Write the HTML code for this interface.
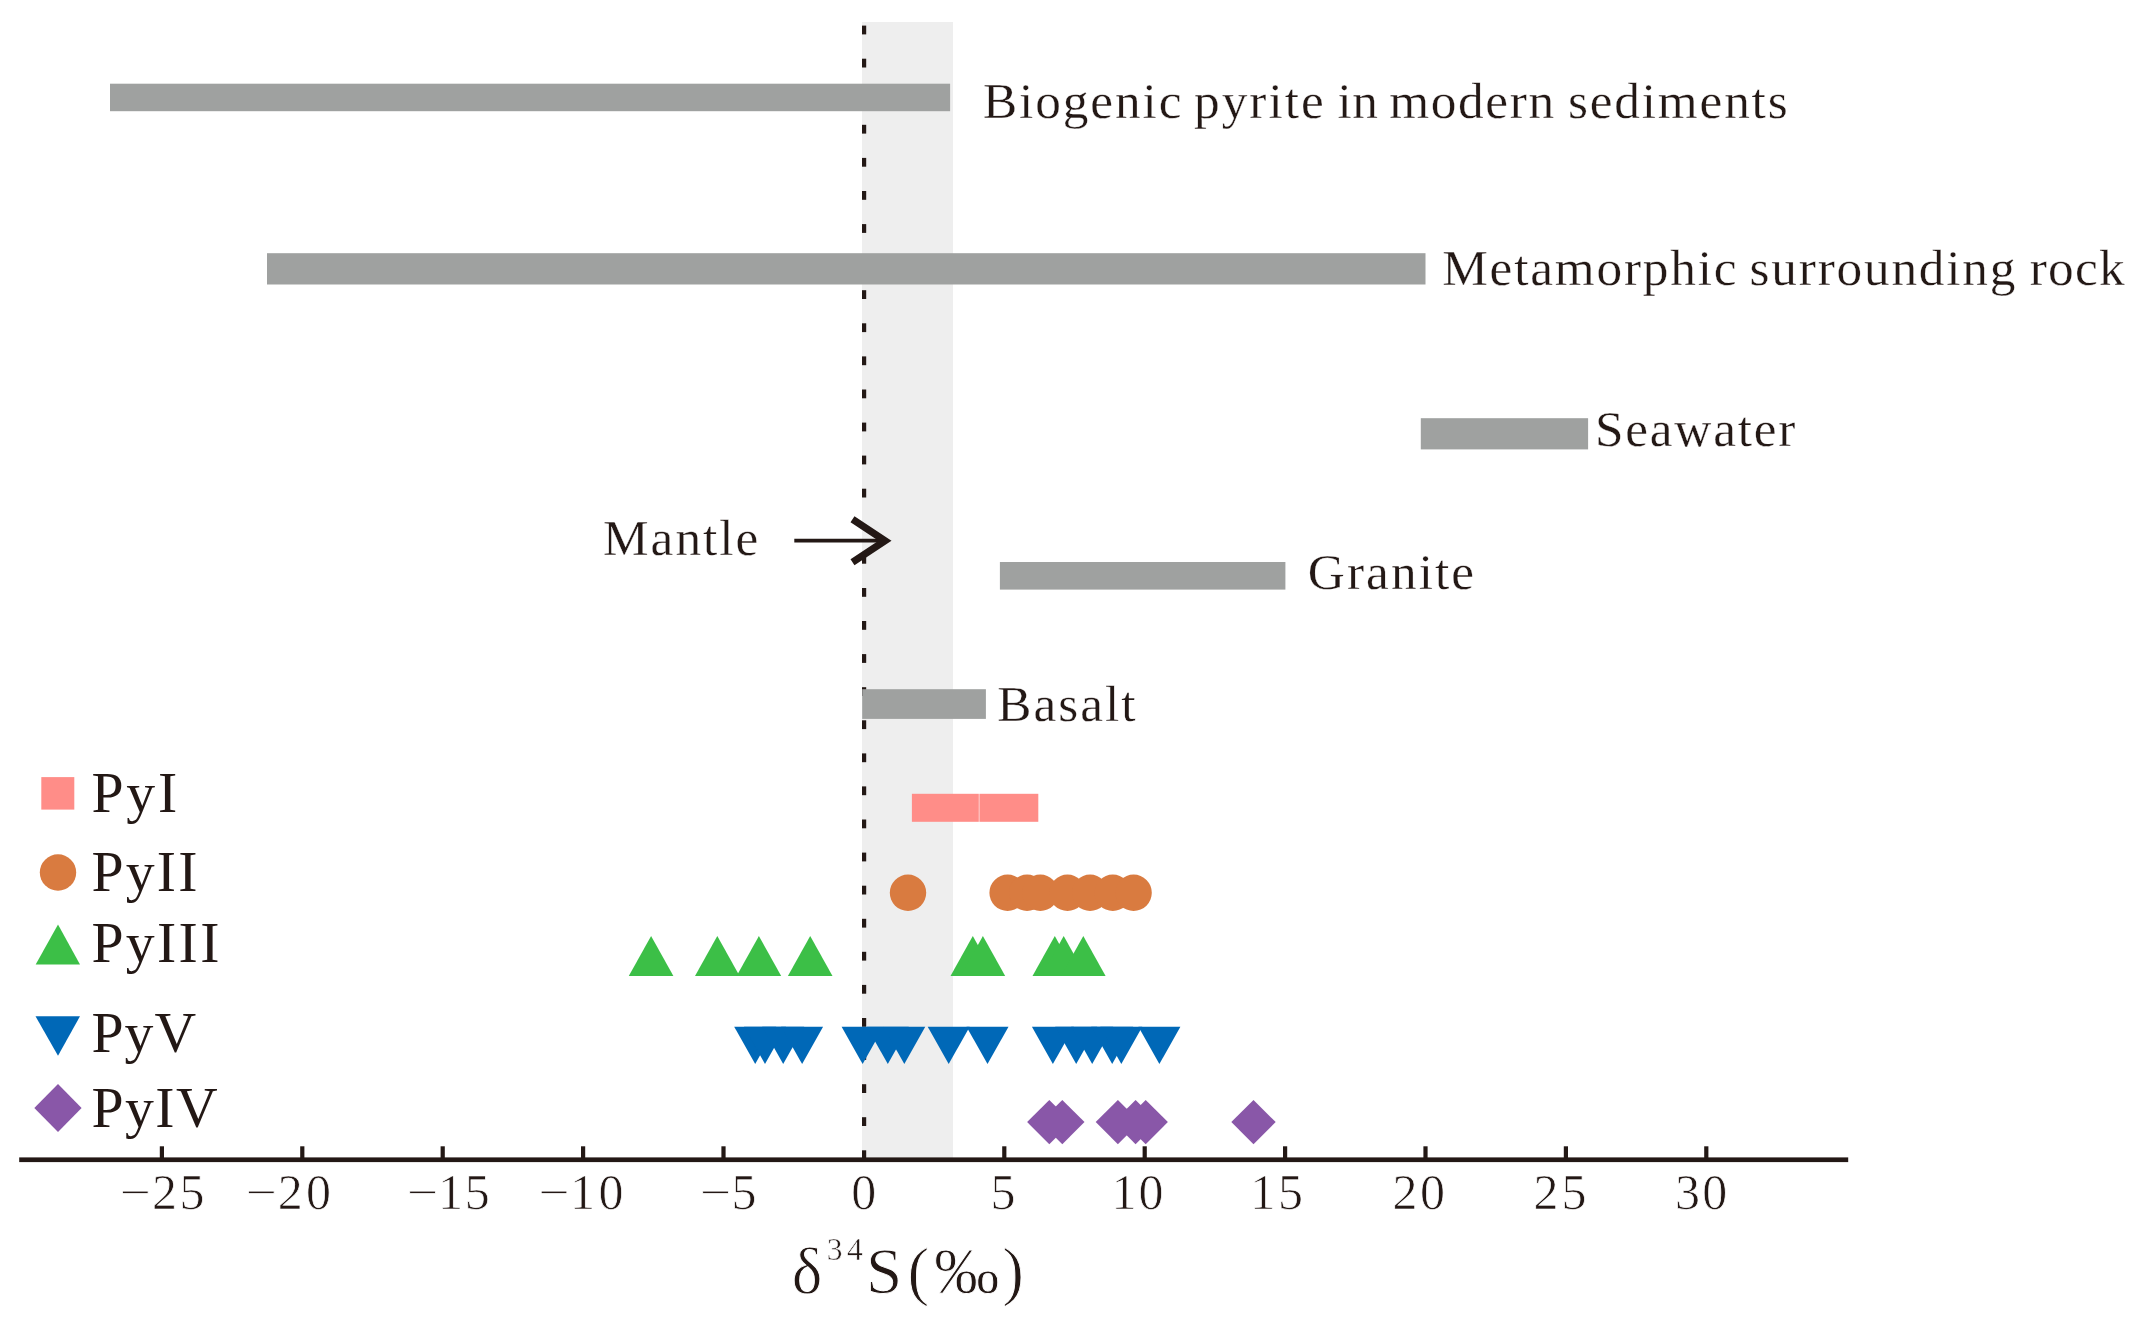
<!DOCTYPE html>
<html lang="en">
<head>
<meta charset="utf-8">
<title>Sulfur isotope composition of pyrite</title>
<style>
html,body{margin:0;padding:0;background:#ffffff;}
body{width:2142px;height:1324px;overflow:hidden;}
svg{display:block;position:absolute;left:0;top:0;filter:blur(0.45px);}
text{font-family:"Liberation Serif","Times New Roman",Times,serif;fill:#231815;}
.lab{font-size:51.3px;stroke:#ffffff;stroke-width:0.3px;}
.leg{font-size:57.7px;}
.tick{font-size:50px;stroke:#ffffff;stroke-width:0.7px;}
.ttl{font-size:65px;stroke:#ffffff;stroke-width:0.9px;}
.sup{font-size:31.5px;stroke-width:0.5px;}
</style>
</head>
<body>
<svg width="2142" height="1324" viewBox="0 0 2142 1324">
<rect x="0" y="0" width="2142" height="1324" fill="#ffffff"/>

<rect x="862" y="22" width="91" height="1136.5" fill="#eeeeee"/>
<g fill="#231815"><rect x="862" y="25.6" width="4.2" height="8.8"/><rect x="862" y="58.7" width="4.2" height="8.8"/><rect x="862" y="91.8" width="4.2" height="8.8"/><rect x="862" y="124.8" width="4.2" height="8.8"/><rect x="862" y="157.9" width="4.2" height="8.8"/><rect x="862" y="191.0" width="4.2" height="8.8"/><rect x="862" y="224.1" width="4.2" height="8.8"/><rect x="862" y="257.2" width="4.2" height="8.8"/><rect x="862" y="290.2" width="4.2" height="8.8"/><rect x="862" y="323.3" width="4.2" height="8.8"/><rect x="862" y="356.4" width="4.2" height="8.8"/><rect x="862" y="389.5" width="4.2" height="8.8"/><rect x="862" y="422.6" width="4.2" height="8.8"/><rect x="862" y="455.6" width="4.2" height="8.8"/><rect x="862" y="488.7" width="4.2" height="8.8"/><rect x="862" y="554.9" width="4.2" height="8.8"/><rect x="862" y="588.0" width="4.2" height="8.8"/><rect x="862" y="621.0" width="4.2" height="8.8"/><rect x="862" y="654.1" width="4.2" height="8.8"/><rect x="862" y="687.2" width="4.2" height="8.8"/><rect x="862" y="720.3" width="4.2" height="8.8"/><rect x="862" y="753.4" width="4.2" height="8.8"/><rect x="862" y="786.4" width="4.2" height="8.8"/><rect x="862" y="819.5" width="4.2" height="8.8"/><rect x="862" y="852.6" width="4.2" height="8.8"/><rect x="862" y="885.7" width="4.2" height="8.8"/><rect x="862" y="918.8" width="4.2" height="8.8"/><rect x="862" y="951.8" width="4.2" height="8.8"/><rect x="862" y="984.9" width="4.2" height="8.8"/><rect x="862" y="1018.0" width="4.2" height="8.8"/><rect x="862" y="1051.1" width="4.2" height="8.8"/><rect x="862" y="1084.2" width="4.2" height="8.8"/><rect x="862" y="1117.2" width="4.2" height="8.8"/><rect x="862" y="1150.3" width="4.2" height="7.7"/></g>
<g fill="#9fa1a0">
<rect x="110" y="83.7" width="840.1" height="27.5"/>
<rect x="267" y="253.2" width="1158.5" height="31.3"/>
<rect x="1420.8" y="418.2" width="167.3" height="31.2"/>
<rect x="999.9" y="562" width="285.5" height="27.6"/>
<rect x="862.2" y="689.2" width="123.7" height="29.7"/>
</g>
<text class="lab" y="117.6"><tspan x="983.0" letter-spacing="1.89">Biogenic</tspan> <tspan x="1194.0" letter-spacing="2.02">pyrite</tspan> <tspan x="1337.4" letter-spacing="0.50">in</tspan> <tspan x="1389.2" letter-spacing="1.66">modern</tspan> <tspan x="1568.0" letter-spacing="1.81">sediments</tspan></text>
<text class="lab" y="285.3"><tspan x="1442.2" letter-spacing="1.80">Metamorphic</tspan> <tspan x="1749.6" letter-spacing="1.79">surrounding</tspan> <tspan x="2029.8" letter-spacing="1.20">rock</tspan></text>
<text class="lab" y="446.1"><tspan x="1595.0" letter-spacing="1.77">Seawater</tspan></text>
<text class="lab" y="589.4"><tspan x="1307.8" letter-spacing="2.08">Granite</tspan></text>
<text class="lab" y="721.4"><tspan x="997.2" letter-spacing="2.00">Basalt</tspan></text>
<text class="lab" y="555.4"><tspan x="603.0" letter-spacing="2.00">Mantle</tspan></text>
<g stroke="#231815" fill="none"><line x1="794.3" y1="540.7" x2="884" y2="540.7" stroke-width="3.8"/><polyline points="852.5,519.2 885,540.7 852.5,562.2" stroke-width="7.2" stroke-linejoin="miter"/></g>
<rect x="41.3" y="777.1" width="33" height="32.5" fill="#ff8d88"/>
<circle cx="58" cy="872.5" r="18.2" fill="#d97b40"/>
<polygon points="58,924.6 80,964.6 35.7,964.6" fill="#3cbf47"/>
<polygon points="35.5,1016.2 80,1016.2 58,1055.7" fill="#0068b7"/>
<polygon points="58,1084 81.6,1108 58,1132 34.3,1108" fill="#8957a8"/>
<text class="leg" x="91.4" y="811.8" letter-spacing="2.85">PyI</text>
<text class="leg" x="91.4" y="891.3" letter-spacing="2.20">PyII</text>
<text class="leg" x="91.4" y="961.8" letter-spacing="2.35">PyIII</text>
<text class="leg" x="91.4" y="1051.8" letter-spacing="1.15">PyV</text>
<text class="leg" x="91.4" y="1127.2" letter-spacing="1.50">PyIV</text>
<g fill="#ff8d88"><rect x="911.9" y="793.8" width="66.9" height="28"/><rect x="979.4" y="793.8" width="58.9" height="28"/></g>
<g fill="#d97b40"><circle cx="908" cy="892.8" r="18.2"/><circle cx="1007.6" cy="892.8" r="18.2"/><circle cx="1027.1" cy="892.8" r="18.2"/><circle cx="1040.3" cy="892.8" r="18.2"/><circle cx="1067.5" cy="892.8" r="18.2"/><circle cx="1090.1" cy="892.8" r="18.2"/><circle cx="1112.8" cy="892.8" r="18.2"/><circle cx="1133.6" cy="892.8" r="18.2"/></g>
<g fill="#3cbf47"><polygon points="651.1,936.1 673.4,976 628.8000000000001,976"/><polygon points="717.3,936.1 739.5999999999999,976 695.0,976"/><polygon points="758.9,936.1 781.1999999999999,976 736.6,976"/><polygon points="810.2,936.1 832.5,976 787.9000000000001,976"/><polygon points="972.8,936.1 995.0999999999999,976 950.5,976"/><polygon points="982.9,936.1 1005.1999999999999,976 960.6,976"/><polygon points="1054.8,936.1 1077.1,976 1032.5,976"/><polygon points="1063.7,936.1 1086.0,976 1041.4,976"/><polygon points="1083.3,936.1 1105.6,976 1061.0,976"/></g>
<g fill="#0068b7"><polygon points="734.2,1026.7 776.2,1026.7 755.2,1064"/><polygon points="744,1026.7 786,1026.7 765,1064"/><polygon points="762.2,1026.7 804.2,1026.7 783.2,1064"/><polygon points="781.1,1026.7 823.1,1026.7 802.1,1064"/><polygon points="841.6,1026.7 883.6,1026.7 862.6,1064"/><polygon points="866.8,1026.7 908.8,1026.7 887.8,1064"/><polygon points="883.3,1026.7 925.3,1026.7 904.3,1064"/><polygon points="927.7,1026.7 969.7,1026.7 948.7,1064"/><polygon points="966.5,1026.7 1008.5,1026.7 987.5,1064"/><polygon points="1031.9,1026.7 1073.9,1026.7 1052.9,1064"/><polygon points="1055.2,1026.7 1097.2,1026.7 1076.2,1064"/><polygon points="1071.2,1026.7 1113.2,1026.7 1092.2,1064"/><polygon points="1091.2,1026.7 1133.2,1026.7 1112.2,1064"/><polygon points="1100.3,1026.7 1142.3,1026.7 1121.3,1064"/><polygon points="1138.4,1026.7 1180.4,1026.7 1159.4,1064"/></g>
<g fill="#8957a8"><polygon points="1049.3,1099.9 1071.5,1122.1 1049.3,1144.3 1027.1,1122.1"/><polygon points="1062.3,1099.9 1084.5,1122.1 1062.3,1144.3 1040.1,1122.1"/><polygon points="1117.9,1099.9 1140.1000000000001,1122.1 1117.9,1144.3 1095.7,1122.1"/><polygon points="1135.6,1099.9 1157.8,1122.1 1135.6,1144.3 1113.3999999999999,1122.1"/><polygon points="1145.7,1099.9 1167.9,1122.1 1145.7,1144.3 1123.5,1122.1"/><polygon points="1253.5,1099.9 1275.7,1122.1 1253.5,1144.3 1231.3,1122.1"/></g>
<g fill="#231815"><rect x="19.2" y="1157.4" width="1829" height="4.7"/>
<rect x="159.8" y="1146.3" width="4.2" height="12"/>
<rect x="300.2" y="1146.3" width="4.2" height="12"/>
<rect x="440.6" y="1146.3" width="4.2" height="12"/>
<rect x="581.0" y="1146.3" width="4.2" height="12"/>
<rect x="721.4" y="1146.3" width="4.2" height="12"/>
<rect x="1002.2" y="1146.3" width="4.2" height="12"/>
<rect x="1142.6" y="1146.3" width="4.2" height="12"/>
<rect x="1283.0" y="1146.3" width="4.2" height="12"/>
<rect x="1423.4" y="1146.3" width="4.2" height="12"/>
<rect x="1563.8" y="1146.3" width="4.2" height="12"/>
<rect x="1704.2" y="1146.3" width="4.2" height="12"/>
</g>
<text class="tick" y="1209.3"><tspan x="119.4" textLength="31.14" lengthAdjust="spacingAndGlyphs">−</tspan><tspan x="152.1 179.6">25</tspan></text>
<text class="tick" y="1209.3"><tspan x="245.4" textLength="31.14" lengthAdjust="spacingAndGlyphs">−</tspan><tspan x="277.7 305.9">20</tspan></text>
<text class="tick" y="1209.3"><tspan x="406.8" textLength="31.14" lengthAdjust="spacingAndGlyphs">−</tspan><tspan x="437.9 464.8">15</tspan></text>
<text class="tick" y="1209.3"><tspan x="538.3" textLength="31.14" lengthAdjust="spacingAndGlyphs">−</tspan><tspan x="570.1 598.6">10</tspan></text>
<text class="tick" y="1209.3"><tspan x="699.7" textLength="31.14" lengthAdjust="spacingAndGlyphs">−</tspan><tspan x="731.4">5</tspan></text>
<text class="tick" y="1209.3" x="851.2">0</text>
<text class="tick" y="1209.3" x="990.4">5</text>
<text class="tick" y="1209.3" x="1111.5 1138.6">10</text>
<text class="tick" y="1209.3" x="1250.3 1278.0">15</text>
<text class="tick" y="1209.3" x="1392.4 1419.9">20</text>
<text class="tick" y="1209.3" x="1533.6 1561.5">25</text>
<text class="tick" y="1209.3" x="1674.9 1702.2">30</text>
<text class="ttl" y="1293"><tspan x="791.7">δ</tspan><tspan class="sup" x="826.7 846.9" y="1259.5">34</tspan><tspan x="865.9 907.4 934.2 1002.2" y="1293">S(‰)</tspan></text>
</svg>
</body>
</html>
